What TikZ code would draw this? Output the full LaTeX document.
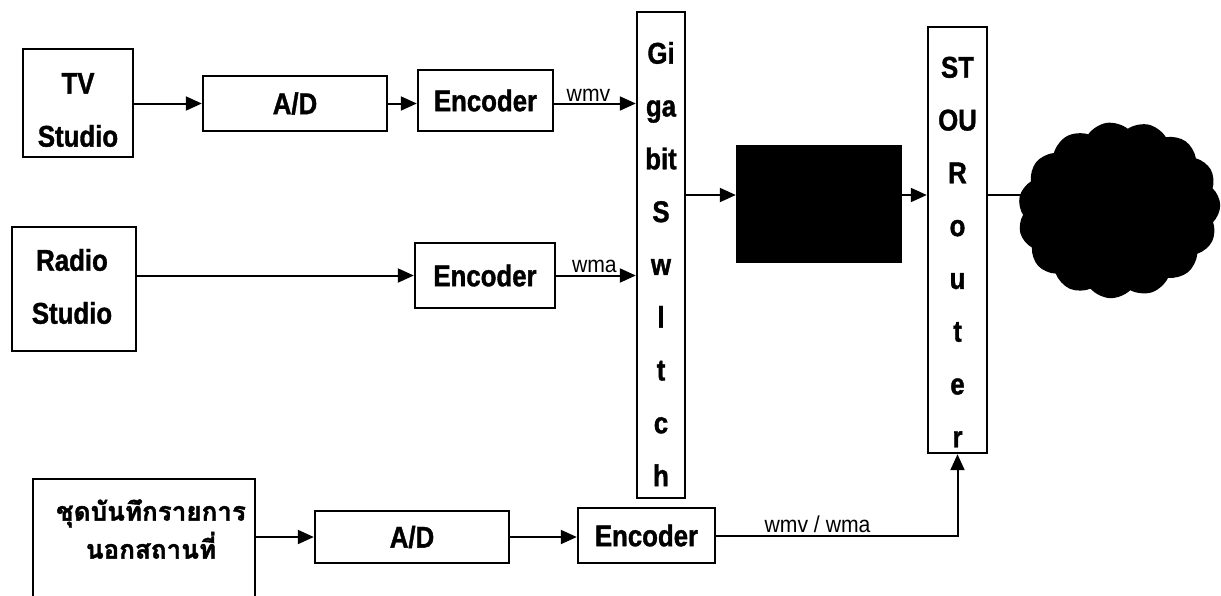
\documentclass[tikz,border=0pt]{standalone}
\usepackage{fontspec}
\setmainfont{Liberation Sans}
\newfontfamily\bx[FakeStretch=0.86,FakeBold=1.2]{Liberation Sans}
\newfontfamily\lb[FakeStretch=0.92]{Liberation Sans}
\newfontfamily\thaifont[Script=Thai,FakeBold=1.5]{Loma}
\usetikzlibrary{arrows.meta,shapes.symbols}
\tikzset{
  blk/.style={draw, line width=2.4pt, inner sep=0pt},
  boxtxt/.style={font=\bx\bfseries\fontsize{30}{53}\selectfont, align=center, inner sep=0pt},
  stacktxt/.style={font=\bx\bfseries\fontsize{30}{52.8}\selectfont, align=center, inner sep=0pt},
  arr/.style={line width=2pt, -{Triangle[length=16pt,width=14pt]}},
  plain/.style={line width=2pt},
  lab/.style={font=\lb\fontsize{23}{28}\selectfont, inner sep=1.5pt},
}
\begin{document}
\begin{tikzpicture}[x=1pt,y=-1pt]
\clip (0,0) rectangle (1221,595);
\fill[white] (0,0) rectangle (1221,595);
% boxes
\node[blk, minimum width=110, minimum height=108] (tv) at (78,103) {};
\node[boxtxt] (tvt) at (78,110) {TV\\Studio};
\node[blk, boxtxt, minimum width=184, minimum height=55] (ad1) at (295,103.5) {A/D};
\node[blk, boxtxt, minimum width=135, minimum height=61] (enc1) at (485.5,100.5) {Encoder};
\node[blk, minimum width=124, minimum height=124] (radio) at (74,289) {};
\node[boxtxt] (radiot) at (72,286.5) {Radio\\Studio};
\node[blk, boxtxt, minimum width=140, minimum height=65] (enc2) at (485,275.5) {Encoder};
\node[blk, minimum width=48, minimum height=486] (sw) at (661,255) {};
\node[stacktxt] (swt) at (661,264) {Gi\\ga\\bit\\S\\w\\l\\t\\c\\h};
\node[fill=black, inner sep=0pt, minimum width=166, minimum height=118] (bk) at (819,204) {};
\node[blk, minimum width=59, minimum height=426] (rt) at (957.5,240) {};
\node[stacktxt] (rtt) at (957.5,252) {ST\\OU\\R\\o\\u\\t\\e\\r};
\node[blk, minimum width=222, minimum height=180] (ob) at (144,569) {};
\node[font=\thaifont\bfseries\fontsize{26}{38}\selectfont, align=center, inner sep=0pt] (obt) at (151,529) {ชุดบันทึกรายการ\\นอกสถานที่};
\node[blk, boxtxt, minimum width=194, minimum height=52] (ad2) at (412,537) {A/D};
\node[blk, boxtxt, minimum width=137, minimum height=55] (enc3) at (646.5,535.5) {Encoder};
\coordinate (mid) at (0,195);
% connectors
\draw[arr] (tv.east |- ad1.west) -- (ad1.west);
\draw[arr] (ad1.east) -- (ad1.east -| enc1.west);
\draw[arr] (ad1.east -| enc1.east) -- node[lab, above, pos=0.42] {wmv} (ad1.east -| sw.west);
\draw[arr] (radio.east |- enc2.west) -- (enc2.west);
\draw[arr] (enc2.east) -- node[lab, above, pos=0.48] {wma} (enc2.east -| sw.west);
\draw[arr] (sw.east |- mid) -- (bk.west |- mid);
\draw[arr] (bk.east |- mid) -- (rt.west |- mid);
\node[cloud, fill=black, cloud puffs=15, cloud puff arc=95, aspect=1.2, minimum width=203, minimum height=176, inner sep=0pt, rotate=8] (cl) at (1119,210) {};
\draw[plain] (rt.east |- mid) -- (cl.center |- mid);
\draw[arr] (ob.east |- ad2.west) -- (ad2.west);
\draw[arr] (ad2.east) -- (ad2.east -| enc3.west);
\draw[arr] (enc3.east) -- node[lab, above, pos=0.42] {wmv / wma} (enc3.east -| rt.south) -- (rt.south);
\end{tikzpicture}
\end{document}
